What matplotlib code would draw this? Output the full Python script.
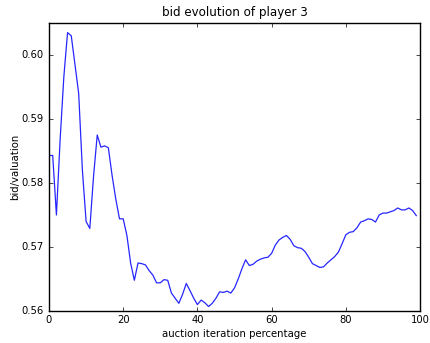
import matplotlib
matplotlib.use("Agg")
import matplotlib.pyplot as plt

iterations = list(range(100))
bid_ratio = [
    0.5843, 0.5843, 0.5750, 0.5868, 0.5966, 0.6035, 0.6030, 0.5985, 0.5940, 0.5820,
    0.5740, 0.5729, 0.5810, 0.5875, 0.5856, 0.5858, 0.5855, 0.5812, 0.5775, 0.5744,
    0.5744, 0.5718, 0.5675, 0.5648, 0.5675, 0.5674, 0.5672, 0.5663, 0.5656, 0.5644,
    0.5644, 0.5649, 0.5648, 0.5628, 0.5620, 0.5612, 0.5626, 0.5643, 0.5632, 0.5620,
    0.5610, 0.5617, 0.5613, 0.5607, 0.5612, 0.5620, 0.5630, 0.5629, 0.5631, 0.5628,
    0.5636, 0.5650, 0.5666, 0.5680, 0.5671, 0.5673, 0.5678, 0.5681, 0.5683, 0.5684,
    0.5690, 0.5703, 0.5711, 0.5715, 0.5718, 0.5712, 0.5702, 0.5699, 0.5698, 0.5693,
    0.5684, 0.5674, 0.5671, 0.5668, 0.5669, 0.5675, 0.5680, 0.5685, 0.5692, 0.5705,
    0.5719, 0.5723, 0.5724, 0.5730, 0.5739, 0.5741, 0.5744, 0.5743, 0.5739, 0.5750,
    0.5753, 0.5753, 0.5755, 0.5757, 0.5761, 0.5758, 0.5758, 0.5761, 0.5757, 0.5749,
]
x_ticks = [0, 20, 40, 60, 80, 100]
y_ticks = [0.56, 0.57, 0.58, 0.59, 0.60]

plt.style.use("classic")
fig = plt.figure(figsize=(4.30, 3.43), dpi=100)
ax = fig.add_axes([49/430, 1-311/343, (420-49)/430, (311-23)/343])
ax.plot(iterations, bid_ratio, color="#0000ff", linewidth=0.9, alpha=0.85)
ax.set_xlim(0, 100)
ax.set_ylim(0.56, 0.605)
ax.set_xticks(x_ticks)
ax.set_yticks(y_ticks)
ax.set_yticklabels([f"{v:.2f}" for v in y_ticks])
ax.tick_params(labelsize=7.2, length=3, pad=4)
ax.tick_params(axis="x", pad=3)
ax.set_xlabel("auction iteration percentage", fontsize=7.3)
ax.set_ylabel("bid/valuation", fontsize=7.3)
ax.xaxis.set_label_coords(0.5, (311-329)/288, transform=ax.transAxes)
ax.yaxis.set_label_coords((20-49)/371, 0.5, transform=ax.transAxes)
ax.set_title("bid evolution of player 3", fontsize=8.6, pad=5)
fig.savefig("out.png", dpi=100)
